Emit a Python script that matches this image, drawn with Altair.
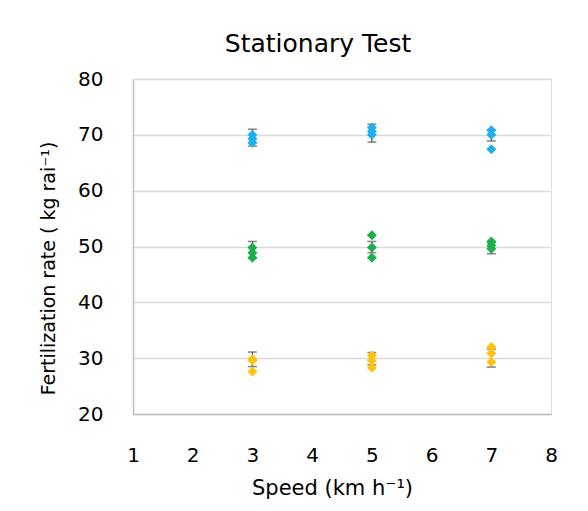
import altair as alt
import pandas as pd

speeds = [3, 5, 7]
point_speed = [3, 3, 3, 5, 5, 5, 7, 7, 7]

blue_vals = [70.0, 69.3, 68.6, 71.3, 70.6, 70.0, 70.8, 70.0, 67.4]
green_vals = [49.8, 48.9, 48.0, 52.0, 49.8, 48.0, 50.9, 50.2, 49.6]
yellow_vals = [29.8, 29.6, 27.6, 30.5, 29.6, 28.3, 32.0, 30.9, 29.3]

blue_mean = [69.5, 70.3, 69.9]
blue_err = [1.5, 1.6, 1.0]
green_mean = [49.4, 49.9, 49.7]
green_err = [1.5, 1.0, 1.0]
yellow_mean = [29.8, 29.9, 30.0]
yellow_err = [1.3, 1.1, 1.6]

series_names = ["Blue", "Green", "Yellow"]
series_colors = ["#1FB0EC", "#1DAF4B", "#FFC20E"]

x_ticks = [1, 2, 3, 4, 5, 6, 7, 8]
y_ticks = [20, 30, 40, 50, 60, 70, 80]

pts = []
for name, vals in zip(series_names, [blue_vals, green_vals, yellow_vals]):
    for s, v in zip(point_speed, vals):
        pts.append({"speed": s, "value": v, "series": name})
pts = pd.DataFrame(pts)

errs = []
for name, m, e in zip(series_names, [blue_mean, green_mean, yellow_mean],
                      [blue_err, green_err, yellow_err]):
    for s, mv, ev in zip(speeds, m, e):
        errs.append({"speed": s, "lo": mv - ev, "hi": mv + ev, "series": name})
errs = pd.DataFrame(errs)

FONT = "DejaVu Sans"

xscale = alt.Scale(domain=[1, 8], nice=False, zero=False)
yscale = alt.Scale(domain=[20, 80], nice=False, zero=False)

xaxis = alt.Axis(values=x_ticks, format="d", grid=False, ticks=False, domain=True,
                 domainColor="#BFBFBF", domainWidth=1.5,
                 labelFont=FONT, labelFontSize=20, labelColor="#000000",
                 labelPadding=31, labelFlush=False, title="Speed (km h⁻¹)",
                 titleFont=FONT, titleFontSize=21, titleFontWeight="normal",
                 titleColor="#000000", titleX=199, titleY=74,
                 titleBaseline="middle", titleAlign="center")
yaxis = alt.Axis(values=y_ticks, format="d", grid=True, gridColor="#D9D9D9",
                 gridWidth=1.5, ticks=False, domain=True, domainColor="#BFBFBF",
                 domainWidth=1.5, labelFont=FONT, labelFontSize=20,
                 labelColor="#000000", labelPadding=30, labelFlush=False,
                 title="Fertilization rate ( kg rai⁻¹)",
                 titleFont=FONT, titleFontSize=19, titleFontWeight="normal",
                 titleColor="#000000", titleX=-85, titleY=189,
                 titleBaseline="middle", titleAlign="center", titleAngle=270)

color = alt.Color("series:N", scale=alt.Scale(domain=series_names, range=series_colors),
                  legend=None)

rules = alt.Chart(errs).mark_rule(color="#595959", strokeWidth=1.3).encode(
    x=alt.X("speed:Q", scale=xscale, axis=xaxis),
    y=alt.Y("lo:Q", scale=yscale, axis=yaxis),
    y2="hi:Q",
)
cap_lo = alt.Chart(errs).mark_tick(color="#595959", orient="horizontal",
                                   size=9, thickness=1.6).encode(
    x=alt.X("speed:Q", scale=xscale), y=alt.Y("lo:Q", scale=yscale))
cap_hi = alt.Chart(errs).mark_tick(color="#595959", orient="horizontal",
                                   size=9, thickness=1.6).encode(
    x=alt.X("speed:Q", scale=xscale), y=alt.Y("hi:Q", scale=yscale))

points = alt.Chart(pts).mark_point(shape="diamond", filled=True, size=100,
                                   opacity=1).encode(
    x=alt.X("speed:Q", scale=xscale),
    y=alt.Y("value:Q", scale=yscale),
    color=color,
)

chart = alt.layer(rules, cap_lo, cap_hi, points).properties(
    width=418, height=335,
    title=alt.TitleParams("Stationary Test", font=FONT, fontSize=25,
                          fontWeight="normal", color="#000000",
                          anchor="middle", offset=12, dx=-24),
    autosize=alt.AutoSizeParams(type="none"),
    padding={"left": 125, "top": 71, "right": 29, "bottom": 89},
).configure_view(stroke=None).configure(background="#FFFFFF")

chart.save("out.html", embed_options={"renderer": "svg", "actions": False})
